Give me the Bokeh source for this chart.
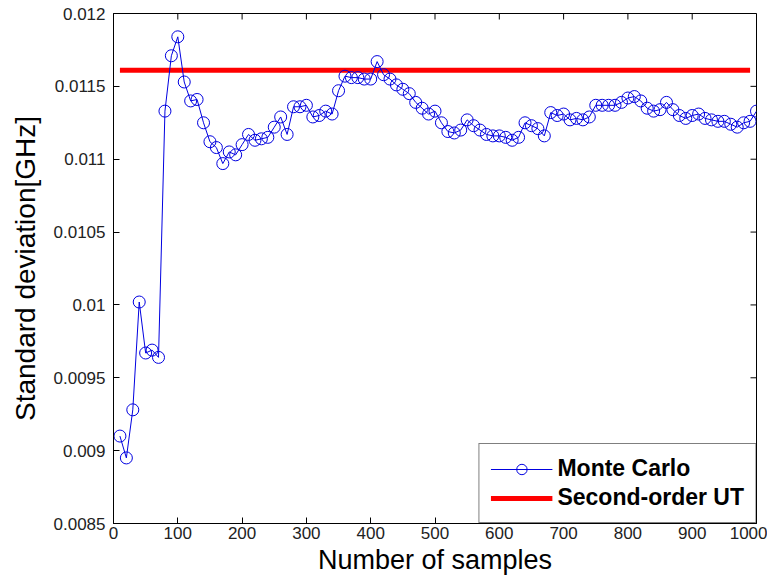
import math
from bokeh.plotting import figure
from bokeh.models import FixedTicker, Legend, LegendItem, Range1d
from bokeh.embed import file_html
from bokeh.resources import INLINE

# ---- data ----
samples = list(range(10, 1001, 10))
monte_carlo = [
    0.00910, 0.00895, 0.00928, 0.01002, 0.00967, 0.00969, 0.00964, 0.01133, 0.01171, 0.01184,
    0.01153, 0.01140, 0.01141, 0.01125, 0.01112, 0.01108, 0.01097, 0.01105, 0.01103, 0.01110,
    0.01117, 0.01113, 0.01114, 0.01115, 0.01122, 0.01129, 0.01117, 0.01136, 0.01136, 0.01137,
    0.01129, 0.01130, 0.01133, 0.01131, 0.01147, 0.01157, 0.01156, 0.01156, 0.01155, 0.01155,
    0.01167, 0.01158, 0.01155, 0.01151, 0.01148, 0.01145, 0.01139, 0.01135, 0.01131, 0.01133,
    0.01125, 0.01119, 0.01118, 0.01120, 0.01127, 0.01123, 0.01120, 0.01117, 0.01116, 0.01116,
    0.01115, 0.01113, 0.01115, 0.01125, 0.01123, 0.01121, 0.01116, 0.01132, 0.01130, 0.01131,
    0.01127, 0.01128, 0.01127, 0.01129, 0.01137, 0.01137, 0.01137, 0.01137, 0.01139, 0.01142,
    0.01143, 0.01140, 0.01135, 0.01133, 0.01134, 0.01139, 0.01134, 0.01130, 0.01128, 0.01130,
    0.01131, 0.01128, 0.01127, 0.01126, 0.01126, 0.01124, 0.01122, 0.01125, 0.01126, 0.01133,
]
ut_samples = [10, 990]
ut_values = [0.01161, 0.01161]

x_ticks = [0, 100, 200, 300, 400, 500, 600, 700, 800, 900, 1000]
y_ticks = [0.0085, 0.009, 0.0095, 0.01, 0.0105, 0.011, 0.0115, 0.012]
y_tick_labels = ["0.0085", "0.009", "0.0095", "0.01", "0.0105", "0.011", "0.0115", "0.012"]

X_MIN, X_MAX = 0, 1000
Y_MIN, Y_MAX = 0.0085, 0.012

FONT = "Liberation Sans"
MC_COLOR = "#0000e0"

p = figure(width=767, height=583, output_backend="svg", toolbar_location=None,
           x_range=Range1d(X_MIN, X_MAX), y_range=Range1d(Y_MIN, Y_MAX),
           min_border_left=113, min_border_right=11, min_border_top=13, min_border_bottom=60,
           x_axis_label="Number of samples", y_axis_label="Standard deviation[GHz]")
p.background_fill_color = "white"
p.border_fill_color = "white"
p.grid.visible = False
p.outline_line_color = "black"
p.outline_line_width = 1

for ax in (p.xaxis[0], p.yaxis[0]):
    ax.major_tick_in = 6
    ax.major_tick_out = 0
    ax.minor_tick_line_color = None
    ax.axis_line_color = "black"
    ax.major_tick_line_color = "black"
    ax.major_label_text_font = FONT
    ax.major_label_text_font_size = "17px"
    ax.major_label_text_color = "#222222"
    ax.axis_label_text_font = FONT
    ax.axis_label_text_font_style = "normal"
    ax.axis_label_text_color = "black"

p.xaxis[0].ticker = FixedTicker(ticks=x_ticks)
p.yaxis[0].ticker = FixedTicker(ticks=y_ticks)
p.yaxis[0].major_label_overrides = {t: s for t, s in zip(y_ticks, y_tick_labels)}
p.xaxis[0].major_label_standoff = 3
p.yaxis[0].major_label_standoff = 8
p.xaxis[0].axis_label_standoff = 3
p.yaxis[0].axis_label_standoff = 10
p.xaxis[0].axis_label_text_font_size = "27px"
p.yaxis[0].axis_label_text_font_size = "28px"

# inward ticks on the top and right edges of the box
p.ray(x=x_ticks, y=[Y_MAX] * len(x_ticks), length=6, length_units="screen",
      angle=-math.pi / 2, line_color="black", line_width=1)
p.ray(x=[X_MAX] * len(y_ticks), y=y_ticks, length=6, length_units="screen",
      angle=math.pi, line_color="black", line_width=1)

# data
ut = p.line(ut_samples, ut_values, line_color="#ff0000", line_width=5)
mc_line = p.line(samples, monte_carlo, line_color=MC_COLOR, line_width=1)
mc_pts = p.scatter(samples, monte_carlo, marker="circle", size=12,
                   fill_color=None, line_color=MC_COLOR, line_width=1)

legend = Legend(items=[
    LegendItem(label="Monte Carlo", renderers=[mc_line, mc_pts]),
    LegendItem(label="Second-order UT", renderers=[ut]),
], location="bottom_right")
legend.margin = 0
legend.padding = 11
legend.spacing = 2
legend.glyph_width = 62
legend.glyph_height = 26
legend.label_standoff = 5
legend.label_text_font = FONT
legend.label_text_font_style = "bold"
legend.label_text_font_size = "23px"
legend.label_text_color = "black"
legend.border_line_color = "black"
legend.border_line_width = 1
legend.background_fill_color = "white"
legend.background_fill_alpha = 1
p.add_layout(legend)

open("out.html", "w").write(file_html(p, INLINE))
